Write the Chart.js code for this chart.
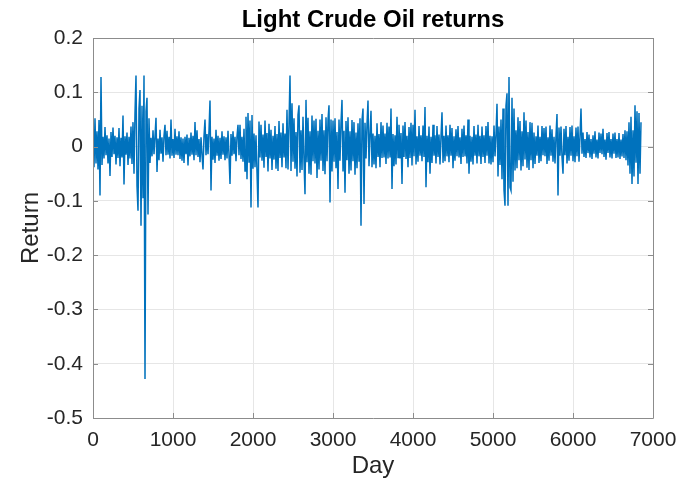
<!DOCTYPE html>
<html>
<head>
<meta charset="utf-8">
<script src="https://cdn.jsdelivr.net/npm/chart.js@4/dist/chart.umd.min.js"></script>
<style>
  html, body { margin: 0; padding: 0; background: #fff; }
  #wrap { width: 683px; height: 486px; }
</style>
</head>
<body>
<div id="wrap"><canvas id="c" width="683" height="486"></canvas></div>
<script>
// Daily log returns of light crude oil, sampled every DAY_STEP trading days.
const DAY_STEP = 12.5;
const returns = [
  .046,-.038,.052,-.031,.028,-.042,.049,-.09,.128,
  -.034,.018,-.022,.036,-.016,.021,-.031,.015,-.054,.027,
  -.019,.035,-.014,.02,-.033,.017,-.021,.034,-.036,.016,
  -.02,.057,-.07,.019,-.015,.026,-.034,.018,-.022,.037,
  -.032,
  .045,-.05,.062,.131,-.072,-.118,.07,.104,-.146,.075,-.095,.131,-.428,.065,.09,-.125,.052,
  -.03,.016,-.018,.03,-.014,.019,.053,-.047,.015,-.025,
  .031,-.013,.017,-.028,.02,.04,-.016,.029,-.015,.018,
  -.022,.05,-.017,.014,-.021,.033,-.015,.019,-.016,.028,
  -.023,.017,-.026,.015,-.03,.018,-.014,.022,-.035,.016,
  -.018,.026,-.015,.02,-.025,.045,-.016,.03,-.019,.014,
  -.029,.017,-.015,-.042,.019,.05,-.016,.023,-.014,.029,
  .085,-.081,.018,-.024,.015,-.03,.031,-.017,.02,-.026,
  .016,-.023,.028,-.015,.019,-.025,.017,-.022,.029,-.016,
  -.069,.023,-.017,.028,-.014,.018,-.027,.019,.04,-.016,
  .04,-.023,.018,-.028,.033,
  -.045,.055,-.06,.062,-.03,.048,-.112,.058,
  -.041,.024,-.038,.021,-.047,-.112,.046,-.02,.04,-.026,
  .022,-.039,.048,-.019,.025,-.046,.042,-.022,.031,-.043,
  .02,-.024,.038,-.041,.023,-.045,.047,-.021,.026,-.038,
  .043,-.02,.024,-.04,.068,-.042,.041,
  .131,-.045,.08,-.028,.052,-.041,.027,-.055,.058,.076,
  -.048,.03,-.043,.055,-.026,-.088,.086,-.029,.053,-.05,
  .028,-.052,.057,-.027,.048,-.031,.051,-.058,.029,-.042,
  .05,-.026,.06,-.045,.03,-.051,.054,-.027,.049,.076,
  -.103,.05,-.046,
  .048,-.028,.052,-.04,.027,-.078,.05,-.026,.044,.086,
  -.046,.029,-.085,.047,-.025,.054,-.05,.028,-.044,.049,
  -.027,.045,-.052,.026,-.04,.043,-.028,.052,-.146,.048,
  .07,-.106,
  .044,-.022,.04,.085,-.036,.021,.066,-.038,.024,-.033,
  .02,-.04,.043,-.019,.023,-.038,.045,-.021,.039,-.02,
  .024,-.032,.044,-.022,.037,-.02,.07,-.078,.023,-.036,
  .021,-.033,.055,-.02,.04,-.022,.025,-.069,.039,-.019,
  .045,-.023,.02,-.038,.036,-.021,.044,-.035,
  .04,-.018,.068,-.033,.019,-.028,.038,-.017,.021,-.027,
  .039,-.019,.073,-.075,.02,-.029,.037,-.05,.018,-.03,
  .04,-.017,.021,-.031,.038,-.019,.022,-.033,.018,.063,
  -.03,.02,-.027,.039,-.018,.021,-.029,.04,-.017,.034,
  -.04,.019,-.026,.032,-.018,.038,-.02,.017,-.032,.033,
  -.019,.039,-.018,.021,-.031,.05,-.05,.02,-.028,.018,
  -.033,.038,-.017,.022,-.031,.04,-.018,.02,-.032,.037,
  -.019,.021,-.03,.038,-.017,.045,-.031,.02,-.033,.019,
  -.029,.039,-.018,.022,.079,-.055,.037,-.034,
  .05,-.06,.07,-.08,-.109,.075,.098,-.109,.128,-.075,-.081,.09,-.065,.07,
  -.044,.03,-.04,.054,-.025,.047,-.044,.028,-.036,.063,
  -.024,.048,-.039,.027,-.043,.045,-.025,.044,-.04,.026,
  -.032,.019,-.017,.039,-.03,.018,-.027,.038,-.016,.034,
  -.018,.037,-.032,.017,-.026,.039,-.017,.032,-.028,.018,
  -.031,.02,.06,-.09,.035,-.017,.037,-.019,-.05,.033,
  -.016,.038,-.031,.018,-.026,.036,-.017,.039,-.027,.019,
  -.029,.035,-.018,.037,-.028,.019,
  .07,-.013,.026,-.019,.014,-.021,.027,-.012,.022,-.02,
  .014,-.023,.021,-.013,.028,-.02,.013,-.022,.026,-.012,
  .024,-.014,.033,-.019,.013,-.024,.025,-.012,.027,-.02,
  .014,-.022,.024,-.013,.026,-.021,.014,-.02,.025,-.023,
  .013,-.018,.023,-.021,.03,-.025,.028,
  -.035,.045,-.05,.055,-.069,.03,-.055,.076,-.03,.065,-.069,.062,-.05,.045
];

const dayTicks = [0, 1000, 2000, 3000, 4000, 5000, 6000, 7000];
const returnTicks = [0.2, 0.1, 0, -0.1, -0.2, -0.3, -0.4, -0.5];

const points = returns.map((r, i) => ({ x: i * DAY_STEP, y: r }));

const TEXT = '#262626';
const FONT = '"Liberation Sans", Arial, Helvetica, sans-serif';

// Box around the axes with short inward-facing ticks on every side.
const boxPlugin = {
  id: 'axesBox',
  afterDraw(chart) {
    const { ctx, chartArea: a, scales } = chart;
    ctx.save();
    ctx.strokeStyle = '#8c8c8c';
    ctx.lineWidth = 1;
    ctx.beginPath();
    ctx.rect(Math.round(a.left) + 0.5, Math.round(a.top) + 0.5,
             Math.round(a.right - a.left), Math.round(a.bottom - a.top));
    ctx.stroke();
    const len = 5;
    ctx.beginPath();
    dayTicks.forEach(v => {
      const px = Math.round(scales.x.getPixelForValue(v)) + 0.5;
      ctx.moveTo(px, a.bottom); ctx.lineTo(px, a.bottom - len);
      ctx.moveTo(px, a.top); ctx.lineTo(px, a.top + len);
    });
    returnTicks.forEach(v => {
      const py = Math.round(scales.y.getPixelForValue(v)) + 0.5;
      ctx.moveTo(a.left, py); ctx.lineTo(a.left + len, py);
      ctx.moveTo(a.right, py); ctx.lineTo(a.right - len, py);
    });
    ctx.stroke();
    ctx.restore();
  }
};

function noEdgePadding(s) {
  s.paddingLeft = 0; s.paddingRight = 0;
  s.paddingTop = 0; s.paddingBottom = 0;
}

new Chart(document.getElementById('c'), {
  type: 'line',
  data: {
    datasets: [{
      data: points,
      borderColor: '#0072BD',
      borderWidth: 1.5,
      pointRadius: 0,
      fill: false,
      tension: 0
    }]
  },
  options: {
    responsive: false,
    animation: false,
    events: [],
    layout: { padding: { left: 0, right: 30, top: 0, bottom: 0 } },
    plugins: {
      legend: { display: false },
      tooltip: { enabled: false },
      title: {
        display: true,
        fullSize: false,
        text: 'Light Crude Oil returns',
        color: '#000',
        font: { family: FONT, size: 24, weight: 'bold', lineHeight: 1.2 },
        padding: { top: 6, bottom: 3.2 }
      }
    },
    scales: {
      x: {
        type: 'linear',
        min: 0, max: 7000,
        afterBuildTicks(s) { s.ticks = dayTicks.map(v => ({ value: v })); },
        afterFit(s) { s.height = 68; noEdgePadding(s); },
        grid: { color: '#e6e6e6', drawTicks: false },
        border: { display: false },
        ticks: {
          color: TEXT, padding: 10, maxRotation: 0,
          font: { family: FONT, size: 21 },
          callback: v => String(v)
        },
        title: {
          display: true, text: 'Day', color: TEXT,
          font: { family: FONT, size: 24, lineHeight: 1.2 },
          padding: { top: 0, bottom: 5 }
        }
      },
      y: {
        type: 'linear',
        min: -0.5, max: 0.2,
        afterBuildTicks(s) { s.ticks = returnTicks.map(v => ({ value: v })); },
        afterFit(s) { s.width = 93; noEdgePadding(s); },
        grid: { color: '#e6e6e6', drawTicks: false },
        border: { display: false },
        ticks: {
          color: TEXT, padding: 10,
          font: { family: FONT, size: 21 },
          callback: v => String(Math.round(v * 10) / 10)
        },
        title: {
          display: true, text: 'Return', color: TEXT,
          font: { family: FONT, size: 24, lineHeight: 1.2 },
          padding: { top: 17, bottom: 0 }
        }
      }
    }
  },
  plugins: [boxPlugin]
});
</script>
</body>
</html>
